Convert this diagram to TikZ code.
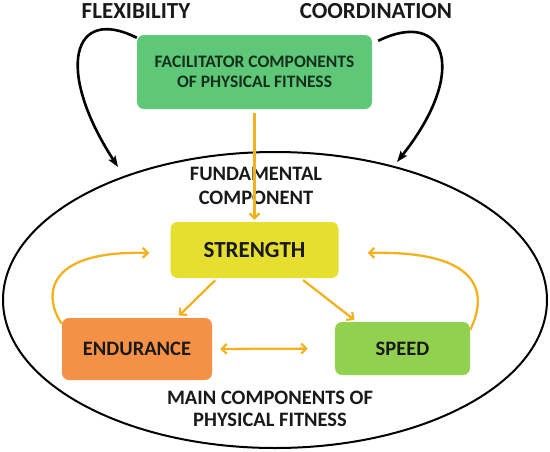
\documentclass[tikz,border=0pt]{standalone}
\usepackage{fontspec}
\setmainfont{Carlito}
\usetikzlibrary{arrows.meta}
\definecolor{facgreen}{RGB}{94,200,120}
\definecolor{stryellow}{RGB}{230,223,48}
\definecolor{endorange}{RGB}{245,145,70}
\definecolor{spdgreen}{RGB}{146,208,80}
\definecolor{arrorange}{RGB}{242,178,30}
\definecolor{txt}{RGB}{25,25,25}
\definecolor{factxt}{RGB}{22,48,28}
\tikzset{
  box/.style={rounded corners=7pt, inner sep=0pt, text=txt, font=\bfseries, align=center},
  lbl/.style={text=txt, font=\bfseries, align=center, inner sep=0pt},
  blk/.style={draw=black, line width=2.6pt, -{Stealth[length=11pt,width=8pt,inset=2pt]}},
  orgtip/.tip={Straight Barb[length=5pt,width=10pt,line width=2.2pt]},
  org/.style={draw=arrorange, line width=2.3pt, -orgtip},
}
\begin{document}
\begin{tikzpicture}[x=1pt,y=-1pt]
\useasboundingbox (0,0) rectangle (550,451);
% ellipse
\draw[line width=2pt] (275,300) ellipse [x radius=272, y radius=148];
% boxes
\node[box, fill=facgreen, text=factxt, minimum width=235pt, minimum height=74pt, font=\bfseries\fontsize{17.5}{20}\selectfont] (fac) at (254.5,72) {FACILITATOR COMPONENTS\\OF PHYSICAL FITNESS};
\node[box, fill=stryellow, minimum width=168pt, minimum height=56pt, font=\bfseries\fontsize{23}{26}\selectfont] (str) at (254.5,250) {STRENGTH};
\node[box, fill=endorange, minimum width=150pt, minimum height=62pt, font=\bfseries\fontsize{20.5}{24}\selectfont] (end) at (137,349) {ENDURANCE};
\node[box, fill=spdgreen, minimum width=135pt, minimum height=53pt, font=\bfseries\fontsize{20.5}{24}\selectfont] (spd) at (402.5,348.5) {SPEED};
% labels
\node[lbl, font=\bfseries\fontsize{23}{26}\selectfont] (flex) at (136,11) {FLEXIBILITY};
\node[lbl, font=\bfseries\fontsize{23}{26}\selectfont] (coord) at (376,11) {COORDINATION};
\node[lbl, font=\bfseries\fontsize{20.5}{23.5}\selectfont] (fund) at (256,186) {FUNDAMENTAL\\COMPONENT};
\node[lbl, font=\bfseries\fontsize{20.5}{22}\selectfont] (main) at (270,409) {MAIN COMPONENTS OF\\PHYSICAL FITNESS};
% black curved arrows
\coordinate (flexend) at (118,167);
\coordinate (coordend) at (397,162);
\draw[blk] ([xshift=0pt,yshift=-3pt]fac.north west) .. controls (72,5) and (55,70) .. (flexend);
\draw[blk] ([xshift=6pt,yshift=-6pt]fac.north east) .. controls (445,8) and (470,70) .. (coordend);
% orange arrows
\draw[org, shorten <=4pt, shorten >=2pt] (fac.south) -- (str.north);
\draw[org, shorten <=3pt, shorten >=3pt] ([xshift=47pt]str.south west) -- ([xshift=115pt]end.north west);
\draw[org, shorten <=3pt, shorten >=3pt] ([xshift=-38pt]str.south east) -- ([xshift=22pt]spd.north west);
\draw[draw=arrorange, line width=2.3pt, orgtip-orgtip, shorten <=8pt, shorten >=27pt] (end.east) -- (spd.west);
\draw[org] ([yshift=-6pt]end.north west) .. controls (45,300) and (40,250) .. ([xshift=-21pt,yshift=-3pt]str.west);
\draw[org] ([yshift=-8pt]spd.north east) .. controls (485,300) and (490,250) .. ([xshift=29pt,yshift=-3pt]str.east);
\end{tikzpicture}
\end{document}
